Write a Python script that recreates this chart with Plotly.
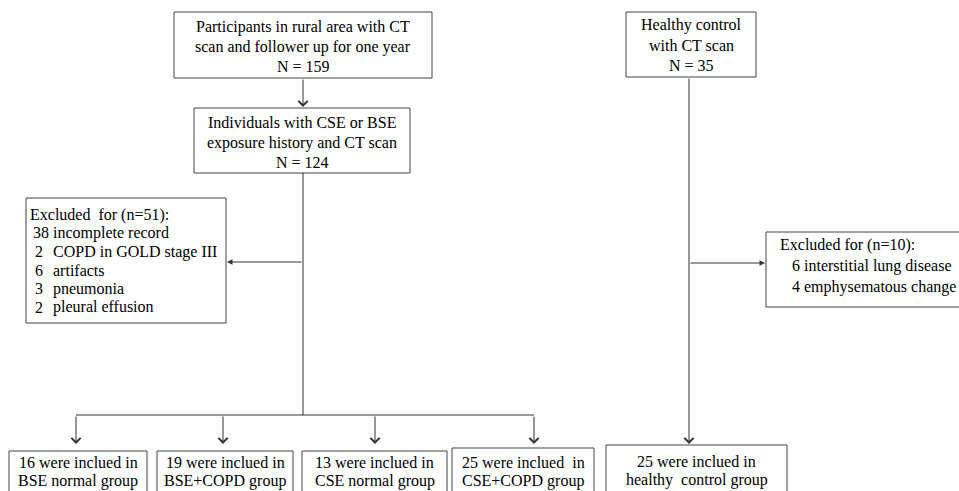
import plotly.graph_objects as go

# ---------------- data (text and counts of the flow chart) ----------------
source_lines = ["Participants in rural area with CT", "scan and follower up for one year"]
source_n = 159
cohort_lines = ["Individuals with CSE or BSE", "exposure history and CT scan"]
cohort_n = 124
control_lines = ["Healthy control", "with CT scan"]
control_n = 35

excl_cohort_total = 51
excl_cohort_counts = [38, 2, 6, 3, 2]
excl_cohort_reasons = ["incomplete record", "COPD in GOLD stage III", "artifacts",
                       "pneumonia", "pleural effusion"]

excl_control_total = 10
excl_control_counts = [6, 4]
excl_control_reasons = ["interstitial lung disease", "emphysematous change"]

group_counts = [16, 19, 13, 25]
group_names = ["BSE normal group", "BSE+COPD group", "CSE normal group", "CSE+COPD group"]
group_first_fmt = ["{} were inclued in", "{} were inclued in", "{} were inclued in",
                   "{} were inclued\u00a0\u00a0in"]
control_group_count = 25
control_group_name = "healthy\u00a0\u00a0control group"

# ---------------- layout geometry (pixel-like data coords) ----------------
W, H = 959, 491
FONT = "Liberation Serif, Times New Roman, serif"
BORDER = "#444444"
LINE = "#333333"

boxes = {
    "source": (174, 432, 12, 78),
    "cohort": (194, 410, 108, 173),
    "control": (626, 756, 12, 77),
    "excl_c": (26, 226, 198, 323),
    "excl_h": (766, 990, 232, 307),
}
group_boxes = [(9, 147, 451), (157, 293, 451), (302, 447, 451), (452, 594, 448)]
ctrl_group_box = (606, 787, 445)
BOTTOM = 510

fig = go.Figure()
shapes = []
ann = []


def rect(x0, x1, y0, y1):
    shapes.append(dict(type="rect", xref="x", yref="y", x0=x0, x1=x1, y0=y0, y1=y1,
                       line=dict(color=BORDER, width=1), fillcolor="rgba(0,0,0,0)"))


def seg(x0, y0, x1, y1):
    shapes.append(dict(type="line", xref="x", yref="y", x0=x0, x1=x1, y0=y0, y1=y1,
                       line=dict(color=LINE, width=1)))


def arrow(tx, ty, hx, hy, head=4, size=1.8):
    ann.append(dict(x=hx, y=hy, ax=tx, ay=ty, xref="x", yref="y", axref="x", ayref="y",
                    text="", showarrow=True, arrowhead=head, arrowsize=size,
                    arrowwidth=1, arrowcolor=LINE, standoff=0))


def txt(s, x, y, anchor="center", size=16):
    ann.append(dict(x=x, y=y, xref="x", yref="y", text=s, showarrow=False,
                    xanchor=anchor, yanchor="middle",
                    font=dict(family=FONT, size=size, color="black")))


# boxes
for k, (x0, x1, y0, y1) in boxes.items():
    rect(x0, x1, y0, y1)
for (x0, x1, y0) in group_boxes:
    rect(x0, x1, y0, BOTTOM)
rect(ctrl_group_box[0], ctrl_group_box[1], ctrl_group_box[2], BOTTOM)

# top boxes text
for i, s in enumerate(source_lines + ["N = {}".format(source_n)]):
    txt(s, 303, 26.5 + 20 * i)
for i, s in enumerate(cohort_lines + ["N = {}".format(cohort_n)]):
    txt(s, 302, 122.5 + 20 * i)
for i, s in enumerate(control_lines + ["N = {}".format(control_n)]):
    txt(s, 691, 25 + 20 * i)

# exclusion (cohort)
txt("Excluded\u00a0\u00a0for (n={}):".format(excl_cohort_total), 28, 215, "left")
for i, (c, r) in enumerate(zip(excl_cohort_counts, excl_cohort_reasons)):
    y = 215 + 18.4 * (i + 1)
    if c >= 10:
        txt("{} {}".format(c, r), 31, y, "left")
    else:
        txt(str(c), 33, y, "left")
        txt(r, 51, y, "left")

# exclusion (control)
txt("Excluded for (n={}):".format(excl_control_total), 778, 245, "left")
for i, (c, r) in enumerate(zip(excl_control_counts, excl_control_reasons)):
    txt("{} {}".format(c, r), 790, 266 + 21 * i, "left")

# groups text
for (x0, x1, y0), n, name, fmt in zip(group_boxes, group_counts, group_names, group_first_fmt):
    cx = (x0 + x1) / 2
    txt(fmt.format(n), cx, 462)
    txt(name, cx, 481)
cx = (ctrl_group_box[0] + ctrl_group_box[1]) / 2
txt("{} were inclued in".format(control_group_count), cx, 461)
txt(control_group_name, cx, 480)

# connectors
arrow(303, 78, 303, 107)
seg(303, 173, 303, 415)
arrow(303, 262, 227, 262, head=2, size=1.1)
group_arrow_x = [76, 223, 375, 534]
seg(group_arrow_x[0], 415, group_arrow_x[-1], 415)
for gx in group_arrow_x:
    arrow(gx, 415, gx, 444)
arrow(689, 77, 689, 444)
arrow(689, 263, 765, 263, head=2, size=1.1)

fig.update_layout(
    width=W, height=H, margin=dict(l=0, r=0, t=0, b=0),
    paper_bgcolor="white", plot_bgcolor="white",
    xaxis=dict(range=[0, W], visible=False, fixedrange=True),
    yaxis=dict(range=[H, 0], visible=False, fixedrange=True),
    shapes=shapes, annotations=ann, showlegend=False,
)
fig.write_html("out.html", config={"displayModeBar": False},
               post_script="document.body.style.margin='0';document.body.style.overflow='hidden';")
